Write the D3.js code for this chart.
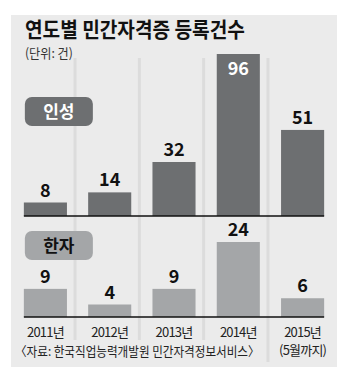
<!DOCTYPE html>
<html>
<head>
<meta charset="utf-8">
<script src="https://cdn.jsdelivr.net/npm/d3@7"></script>
<style>
  body { margin: 0; background: #fff; }
  text { font-family: "Noto Sans CJK KR", "Noto Sans", sans-serif; }
</style>
</head>
<body>
<div class="chart"></div>
<script>
// data
const years = ['2011년', '2012년', '2013년', '2014년', '2015년'];
const yearNotes = ['', '', '', '', '(5월까지)'];
const inseong = [8, 14, 32, 96, 51];
const hanja = [9, 4, 9, 24, 6];
const seriesNames = ['인성', '한자'];
const title = '연도별 민간자격증 등록건수';
const unit = '(단위: 건)';
const source = '〈자료: 한국직업능력개발원 민간자격정보서비스〉';

const width = 354, height = 368;
const panelBg = '#ebebeb';
const topColor = '#6d6f71';
const botColor = '#a4a6a8';

let svg = d3.select('.chart')
    .append('svg')
    .attr('width', width)
    .attr('height', height);

svg.append('rect')
    .attr('x', 11).attr('y', 15)
    .attr('width', 326).attr('height', 352)
    .attr('fill', panelBg);

let x = d3.scaleBand()
    .domain(years)
    .range([11, 337])
    .paddingInner(0.33)
    .paddingOuter(0.2);
let yTop = d3.scaleLinear().domain([0, 96]).range([216, 54]);
let yBot = d3.scaleLinear().domain([0, 24]).range([317, 242]);
let bw = x.bandwidth();

// squeeze a text horizontally to a given width (the print font is condensed)
function fit(t, px, py, w) {
    let len = t.node().getComputedTextLength();
    t.attr('transform', `translate(${px},${py}) scale(${w / len},1)`);
}

// column separators
let sepX = years.slice(1).map(d => x(d) - x.step() * x.paddingInner() / 2 - 2.5);
svg.append('g')
    .selectAll('rect')
    .data(sepX)
    .join('rect')
    .attr('x', d => d - 1.5)
    .attr('y', 58)
    .attr('width', 3)
    .attr('height', 304)
    .attr('fill', '#dcdcdc');

// title
let t1 = svg.append('text')
    .attr('font-size', 21)
    .attr('font-weight', 'bold')
    .attr('fill', '#111')
    .text(title);
fit(t1, 25, 37, 220);
let t2 = svg.append('text')
    .attr('font-size', 13)
    .attr('fill', '#333')
    .text(unit);
fit(t2, 25, 58, 48);

function drawBars(values, y, color, labelFill) {
    let g = svg.append('g');
    g.selectAll('rect')
        .data(values)
        .join('rect')
        .attr('x', (d, i) => x(years[i]))
        .attr('y', d => y(d))
        .attr('width', bw)
        .attr('height', d => y(0) - y(d))
        .attr('fill', color);
    g.selectAll('text')
        .data(values)
        .join('text')
        .attr('x', (d, i) => x(years[i]) + bw / 2)
        .attr('y', d => y(d) < 70 ? y(d) + 21 : y(d) - 6)
        .attr('text-anchor', 'middle')
        .attr('font-size', 18)
        .attr('font-weight', 'bold')
        .attr('fill', d => y(d) < 70 ? '#fff' : labelFill)
        .text(d => d);
    g.append('line')
        .attr('x1', x(years[0]))
        .attr('x2', x(years[years.length - 1]) + bw)
        .attr('y1', y(0)).attr('y2', y(0))
        .attr('stroke', '#111')
        .attr('stroke-width', 1.5);
}
drawBars(inseong, yTop, topColor, '#111');
drawBars(hanja, yBot, botColor, '#111');

// series badges
function badge(name, top, fill, textFill) {
    svg.append('rect')
        .attr('x', x(years[0]) + 1).attr('y', top)
        .attr('width', 68).attr('height', 29)
        .attr('rx', 7)
        .attr('fill', fill);
    svg.append('text')
        .attr('x', x(years[0]) + 35).attr('y', top + 21)
        .attr('text-anchor', 'middle')
        .attr('font-size', 17)
        .attr('font-weight', 'bold')
        .attr('fill', textFill)
        .text(name);
}
badge(seriesNames[0], 97, topColor, '#fff');
badge(seriesNames[1], 231, botColor, '#111');

// year labels
let lab = svg.append('g')
    .selectAll('text')
    .data(years)
    .join('text')
    .attr('x', d => x(d) + bw / 2)
    .attr('y', 337)
    .attr('text-anchor', 'middle')
    .attr('font-size', 13)
    .attr('fill', '#222')
    .attr('letter-spacing', -0.8);
lab.append('tspan').text(d => d);
lab.append('tspan')
    .attr('x', d => x(d) + bw / 2)
    .attr('dy', 18)
    .text((d, i) => yearNotes[i]);

// source line
svg.append('rect')
    .attr('x', 11).attr('y', 340)
    .attr('width', 254).attr('height', 22)
    .attr('fill', panelBg);
let t3 = svg.append('text')
    .attr('font-size', 13)
    .attr('fill', '#222')
    .text(source);
fit(t3, 15, 356, 245);
</script>
</body>
</html>
